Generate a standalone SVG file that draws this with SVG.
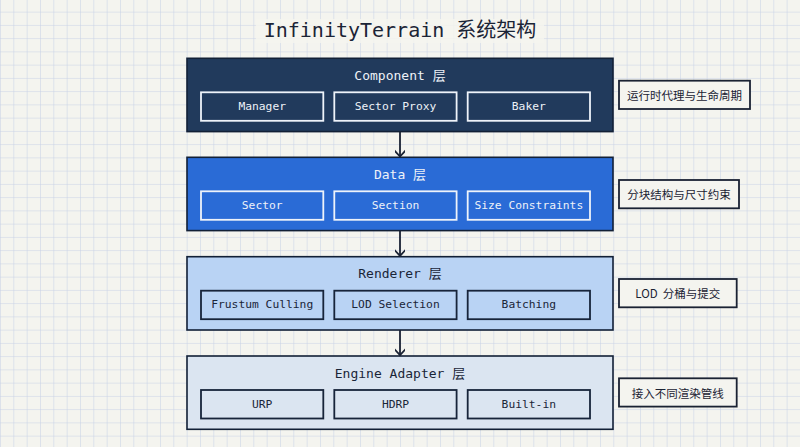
<svg xmlns="http://www.w3.org/2000/svg" width="800" height="447" viewBox="0 0 800 447">
<defs>
<pattern id="grid" x="0" y="-1.6" width="13.333" height="13.25" patternUnits="userSpaceOnUse">
<rect width="13.333" height="13.25" fill="#f4f4ef"/>
<path d="M0 0H13.333M0 0V13.25" fill="none" stroke="#c6d0e6" stroke-width="1"/>
</pattern>
<marker id="arr" markerWidth="14" markerHeight="10" refX="12" refY="5" orient="auto" markerUnits="userSpaceOnUse">
<path d="M5.5 -1 L12 5 L5.5 11" fill="none" stroke="#1a2233" stroke-width="1.8"/>
</marker>
<style>
.title{font-family:"DejaVu Sans Mono","Liberation Mono","Noto Sans CJK SC",monospace;font-size:20px;fill:#1b2436;text-anchor:middle}
.lbl{font-family:"DejaVu Sans Mono","Liberation Mono","Noto Sans CJK SC",monospace;font-size:13px;text-anchor:middle;dominant-baseline:central}
.sub{font-family:"DejaVu Sans Mono","Liberation Mono",monospace;font-size:11.3px;text-anchor:middle;dominant-baseline:central}
.layer{stroke:#122036;stroke-width:1.6}
.sb{fill:none;stroke-width:1.8}
.light .sb{stroke:#eef3fa}
.dark .sb{stroke:#17243a}
.light text{fill:#eef2f8}
.dark text{fill:#1a2538}
.note rect{fill:#f4f4ef;stroke:#1a2233;stroke-width:1.8}
.note text{font-family:"Noto Sans CJK SC","Noto Sans",sans-serif;font-size:11.5px;fill:#1a2233;text-anchor:middle;dominant-baseline:central}
.conn line{stroke:#1a2233;stroke-width:1.8}
</style>
</defs>
<rect width="800" height="447" fill="url(#grid)"/>
<rect x="256" y="19" width="288" height="24" fill="#f4f4ef" opacity="0.85"/>
<text class="title" x="400" y="36.5">InfinityTerrain 系统架构</text>

<g id="layer-component" class="light">
<rect class="layer" x="187" y="58.3" width="426" height="73.3" fill="#213a5c"/>
<text class="lbl" x="400" y="75.5">Component 层</text>
<rect class="sb" x="201" y="92.3" width="122.3" height="28.5"/>
<text class="sub" x="262.2" y="106.5">Manager</text>
<rect class="sb" x="334.3" y="92.3" width="122.3" height="28.5"/>
<text class="sub" x="395.5" y="106.5">Sector Proxy</text>
<rect class="sb" x="467.7" y="92.3" width="122.3" height="28.5"/>
<text class="sub" x="528.8" y="106.5">Baker</text>
</g>

<g id="layer-data" class="light">
<rect class="layer" x="187" y="157.3" width="426" height="73.3" fill="#2a6bd6"/>
<text class="lbl" x="400" y="174.5">Data 层</text>
<rect class="sb" x="201" y="191.3" width="122.3" height="28.5"/>
<text class="sub" x="262.2" y="205.5">Sector</text>
<rect class="sb" x="334.3" y="191.3" width="122.3" height="28.5"/>
<text class="sub" x="395.5" y="205.5">Section</text>
<rect class="sb" x="467.7" y="191.3" width="122.3" height="28.5"/>
<text class="sub" x="528.8" y="205.5">Size Constraints</text>
</g>

<g id="layer-renderer" class="dark">
<rect class="layer" x="187" y="256.7" width="426" height="73.3" fill="#b9d3f4"/>
<text class="lbl" x="400" y="273.9">Renderer 层</text>
<rect class="sb" x="201" y="290.7" width="122.3" height="28.5"/>
<text class="sub" x="262.2" y="304.9">Frustum Culling</text>
<rect class="sb" x="334.3" y="290.7" width="122.3" height="28.5"/>
<text class="sub" x="395.5" y="304.9">LOD Selection</text>
<rect class="sb" x="467.7" y="290.7" width="122.3" height="28.5"/>
<text class="sub" x="528.8" y="304.9">Batching</text>
</g>

<g id="layer-engine" class="dark">
<rect class="layer" x="187" y="356" width="426" height="73.3" fill="#dbe5f1"/>
<text class="lbl" x="400" y="373.2">Engine Adapter 层</text>
<rect class="sb" x="201" y="390" width="122.3" height="28.5"/>
<text class="sub" x="262.2" y="404.2">URP</text>
<rect class="sb" x="334.3" y="390" width="122.3" height="28.5"/>
<text class="sub" x="395.5" y="404.2">HDRP</text>
<rect class="sb" x="467.7" y="390" width="122.3" height="28.5"/>
<text class="sub" x="528.8" y="404.2">Built-in</text>
</g>

<g id="connectors" class="conn">
<line x1="400" y1="131.6" x2="400" y2="156.5" marker-end="url(#arr)"/>
<line x1="400" y1="230.6" x2="400" y2="255.9" marker-end="url(#arr)"/>
<line x1="400" y1="330" x2="400" y2="355.2" marker-end="url(#arr)"/>
</g>

<g id="note-component" class="note">
<rect x="619" y="80.7" width="131" height="28.3"/>
<text x="684.5" y="94.9">运行时代理与生命周期</text>
</g>
<g id="note-data" class="note">
<rect x="619" y="180" width="120" height="28.3"/>
<text x="679" y="194.2">分块结构与尺寸约束</text>
</g>
<g id="note-renderer" class="note">
<rect x="619" y="279" width="117.7" height="28.3"/>
<text x="677.8" y="293.2">LOD&#160; 分桶与提交</text>
</g>
<g id="note-engine" class="note">
<rect x="619" y="378.3" width="117.7" height="28.3"/>
<text x="677.8" y="392.5">接入不同渲染管线</text>
</g>
</svg>
